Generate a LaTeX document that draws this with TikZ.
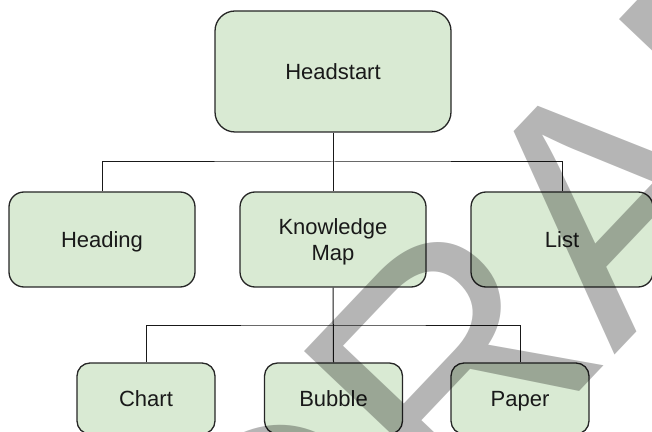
\documentclass[tikz,border=0pt]{standalone}
\usepackage{fontspec}
\setmainfont{Liberation Sans}
\usetikzlibrary{positioning}
\usetikzlibrary{calc}
\definecolor{boxgreen}{HTML}{D9EAD3}
\definecolor{boxline}{HTML}{262626}

\begin{document}
\begin{tikzpicture}[x=0.5pt,y=-0.5pt,
		mapbox/.style={draw=boxline,line width=0.65pt,fill=boxgreen,rounded corners=7.5pt,inner sep=0pt,align=center,text=black!90,font=\fontsize{11}{13}\selectfont},
		oneline/.style={text height=10pt,text depth=2.4pt},
		link/.style={draw=black!90,line width=0.5pt}]
		% Page frame
		\useasboundingbox (0,0) rectangle (652,432);
		\clip (0,0) rectangle (652,432);
		% Top node
		\node[mapbox,oneline,minimum width=118pt,minimum height=60.5pt,rounded corners=10pt] (head) at (333,71.5) {Headstart};
		% Middle row
		\node[mapbox,oneline,minimum width=93pt,minimum height=47.5pt] (heading) at (102,239.5) {Heading};
		\node[mapbox,text depth=0pt,minimum width=93pt,minimum height=47.5pt] (km) at (333,239.5) {Knowledge\\Map};
		\node[mapbox,oneline,minimum width=91pt,minimum height=47.5pt] (list) at (562,239.5) {List};
		% Bottom row
		\node[mapbox,oneline,minimum width=69pt,minimum height=35.5pt,rounded corners=6.5pt] (chart) at (146,398.5) {Chart};
		\node[mapbox,oneline,minimum width=69pt,minimum height=35.5pt,rounded corners=6.5pt] (bubble) at (333.5,398.5) {Bubble};
		\node[mapbox,oneline,minimum width=69pt,minimum height=35.5pt,rounded corners=6.5pt] (paper) at (520,398.5) {Paper};
		% Connectors
		\draw[link] (head.south) -- (km.north);
		\draw[link] (heading.north) |- ($(head.south)!0.5!(km.north)$) -| (list.north);
		\draw[link] (km.south) -- (bubble.north);
		\draw[link] (chart.north) |- ($(km.south)!0.5!(bubble.north)$) -| (paper.north);
		% Watermark
		\node[rotate=46.5,anchor=base west,inner sep=0pt,opacity=0.29,font=\fontsize{165}{165}\selectfont] (draft) at (286,701) {DRAFT};
	\end{tikzpicture}
\end{document}
